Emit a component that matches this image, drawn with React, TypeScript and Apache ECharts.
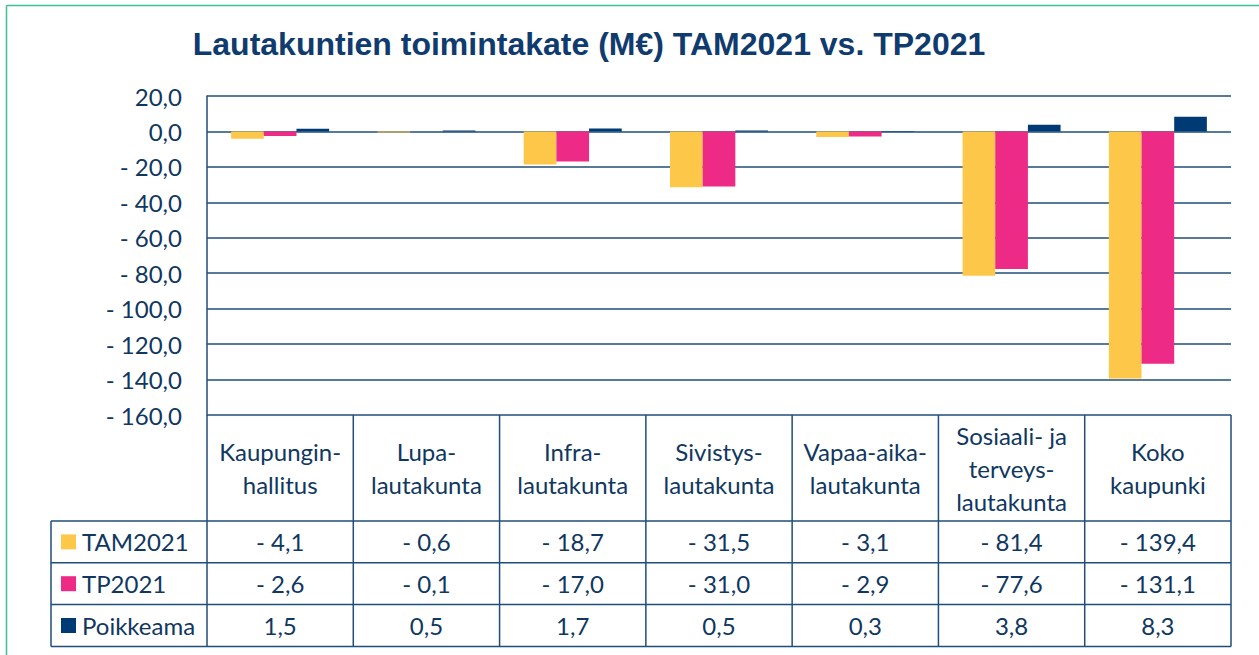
import React, { useEffect, useRef } from "react";
import * as echarts from "echarts";

const categories = [
  "Kaupungin-\nhallitus",
  "Lupa-\nlautakunta",
  "Infra-\nlautakunta",
  "Sivistys-\nlautakunta",
  "Vapaa-aika-\nlautakunta",
  "Sosiaali- ja\nterveys-\nlautakunta",
  "Koko\nkaupunki",
];
const seriesNames = ["TAM2021", "TP2021", "Poikkeama"];
const tam2021 = [-4.1, -0.6, -18.7, -31.5, -3.1, -81.4, -139.4];
const tp2021 = [-2.6, -0.1, -17.0, -31.0, -2.9, -77.6, -131.1];
const poikkeama = [1.5, 0.5, 1.7, 0.5, 0.3, 3.8, 8.3];
const seriesColors = ["#FDC74A", "#EE2A87", "#003A74"];

const W = 1259;
const H = 655;
const PLOT_L = 207;
const PLOT_R = 1231;
const PLOT_T = 96;
const PLOT_B = 415;
const TABLE_L = 51;
const HEADER_B = 521;
const ROW_H = 41.8;
const TEXT = "#10375F";
const LINE = "#1F4E79";
const FONT = "Lato, 'Noto Sans', sans-serif";
const FS = 24;

const fmt = (v: number) =>
  (v < 0 ? "- " : "") + Math.abs(v).toFixed(1).replace(".", ",");

export default function App() {
  const ref = useRef<HTMLDivElement>(null);
  useEffect(() => {
    document.body.style.margin = "0";
    if (!ref.current) return;
    const chart = echarts.init(ref.current, undefined, { renderer: "svg" });
    const values = [tam2021, tp2021, poikkeama];
    const colW = (PLOT_R - PLOT_L) / categories.length;
    const g: any[] = [];
    // green frame
    g.push({ type: "line", shape: { x1: 6.5, y1: 5.5, x2: W, y2: 5.5 }, style: { stroke: "#3CC08F", lineWidth: 1.5 } });
    g.push({ type: "line", shape: { x1: 6.5, y1: 5.5, x2: 6.5, y2: H }, style: { stroke: "#3CC08F", lineWidth: 1.5 } });
    // table vertical lines
    for (let i = 0; i <= categories.length; i++) {
      const x = PLOT_L + i * colW;
      g.push({ type: "line", shape: { x1: x, y1: PLOT_B, x2: x, y2: HEADER_B + 3 * ROW_H }, style: { stroke: LINE, lineWidth: 1.5 } });
    }
    g.push({ type: "line", shape: { x1: TABLE_L, y1: HEADER_B, x2: TABLE_L, y2: HEADER_B + 3 * ROW_H }, style: { stroke: LINE, lineWidth: 1.5 } });
    for (let r = 0; r <= 3; r++) {
      const y = HEADER_B + r * ROW_H;
      g.push({ type: "line", shape: { x1: TABLE_L, y1: y, x2: PLOT_R, y2: y }, style: { stroke: LINE, lineWidth: 1.5 } });
    }
    seriesNames.forEach((name, r) => {
      const cy = HEADER_B + r * ROW_H + ROW_H / 2;
      g.push({ type: "rect", shape: { x: 61, y: cy - 7.5, width: 15, height: 15 }, style: { fill: seriesColors[r] } });
      g.push({
        type: "text", x: 82, y: cy,
        style: { text: name, fill: TEXT, font: `${FS}px ${FONT}`, textAlign: "left", textVerticalAlign: "middle" },
      });
      values[r].forEach((v, i) => {
        g.push({
          type: "text", x: PLOT_L + (i + 0.5) * colW, y: cy,
          style: { text: fmt(v), fill: TEXT, font: `${FS}px ${FONT}`, textAlign: "center", textVerticalAlign: "middle" },
        });
      });
    });

    chart.setOption({
      animation: false,
      title: {
        text: "Lautakuntien toimintakate (M€) TAM2021 vs. TP2021",
        left: 584,
        textAlign: "center",
        top: 23,
        textStyle: { fontFamily: "'Liberation Sans', Arial, sans-serif", fontWeight: "bold", fontSize: 32, color: "#0F3B6E" },
      },
      grid: { left: PLOT_L, right: W - PLOT_R, top: PLOT_T, bottom: H - PLOT_B, containLabel: false },
      xAxis: {
        type: "category",
        data: categories,
        axisLine: { show: false, onZero: false },
        axisTick: { show: false },
        axisLabel: {
          margin: 53,
          verticalAlign: "middle",
          color: TEXT,
          fontFamily: FONT,
          fontSize: FS,
          lineHeight: 33,
          interval: 0,
        },
      },
      yAxis: {
        type: "value",
        min: -160,
        max: 20,
        interval: 20,
        axisLine: { show: true, lineStyle: { color: LINE, width: 1.5 } },
        axisTick: { show: false },
        splitLine: { lineStyle: { color: LINE, width: 1.5 } },
        axisLabel: { margin: 25, color: TEXT, fontFamily: FONT, fontSize: FS, formatter: (v: number) => fmt(v) },
      },
      series: seriesNames.map((name, i) => ({
        name,
        type: "bar",
        data: values[i],
        barGap: "0%",
        barCategoryGap: "33%",
        itemStyle: { color: seriesColors[i] },
      })),
      graphic: g,
    });
    return () => chart.dispose();
  }, []);
  return <div ref={ref} style={{ width: W, height: H }} />;
}
